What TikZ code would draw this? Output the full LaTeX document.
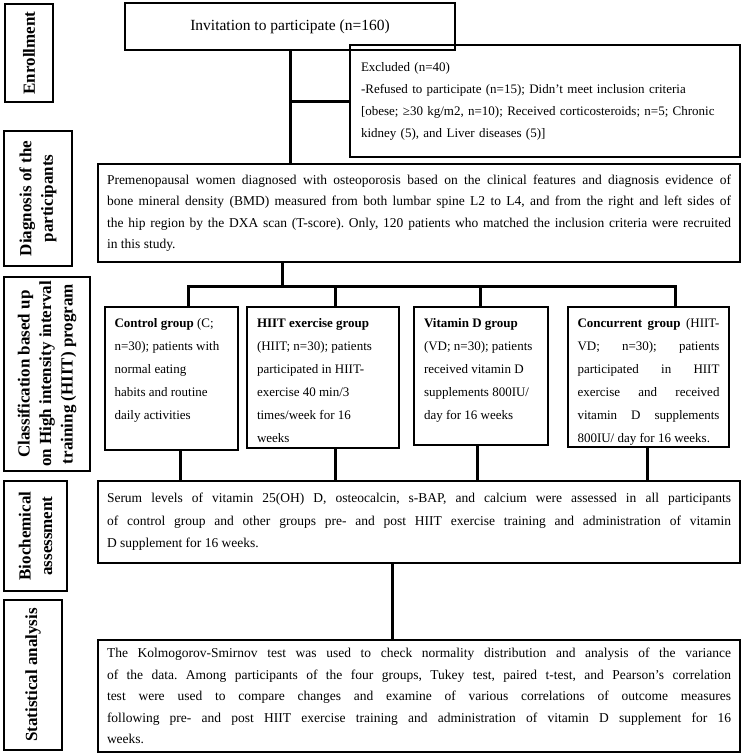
\documentclass[tikz,border=0pt]{standalone}
\usepackage{fontspec}
\setmainfont{Liberation Serif}
\frenchspacing
\newcommand{\corps}{\fontsize{13.5}{21.5}\selectfont}
\newcommand{\groupe}{\fontsize{13}{23}\selectfont}
\newcommand{\titre}{\fontsize{17}{21.5}\selectfont\bfseries}

\begin{document}
\begin{tikzpicture}[x=1pt,y=-1pt]
	\tikzset{boite/.style={draw=black, line width=1.3pt, inner sep=0pt}, etiquette/.style={draw=black, line width=1.3pt, inner sep=0pt, rotate=90, align=center, font=\titre}, lien/.style={line width=3pt}};
	\useasboundingbox (0,0) rectangle (744,755);

	% etiquettes a gauche
	\node[etiquette, minimum width=98pt, minimum height=48pt] (enr) at (29,53) {Enrollment};
	\node[etiquette, minimum width=135pt, minimum height=68pt] (diaglab) at (38,198.5) {Diagnosis of the\\participants};
	\node[etiquette, minimum width=194pt, minimum height=86pt] (classlab) at (47,374) {Classification based up\\on High intensity interval\\training (HIIT) program};
	\node[etiquette, minimum width=110pt, minimum height=63pt] (biolab) at (35.5,536) {Biochemical\\assessment};
	\node[etiquette, minimum width=150pt, minimum height=58pt] (statlab) at (33,675) {Statistical analysis};

	% boites
	\node[boite, minimum width=330pt, minimum height=47pt, font=\fontsize{15.5}{18}\selectfont] (inv) at (290,26.5) {Invitation to participate (n=160)};
	\node[boite, minimum width=390pt, minimum height=112pt, text width=368pt, align=left, font=\fontsize{13}{22}\selectfont] (excl) at (545,101) {Excluded (n=40)\\-Refused to participate (n=15); Didn’t meet inclusion criteria\\{}[obese; ≥30 kg/m2, n=10); Received corticosteroids; n=5; Chronic\\kidney (5), and Liver diseases (5)]};
	\node[boite, minimum width=642pt, minimum height=98pt, text width=624pt, align=justify, font=\corps] (diag) at (419,213) {Premenopausal women diagnosed with osteoporosis based on the clinical features and diagnosis evidence of\linebreak bone mineral density (BMD) measured from both lumbar spine L2 to L4, and from the right and left sides of\linebreak the hip region by the DXA scan (T-score). Only, 120 patients who matched the inclusion criteria were recruited\linebreak in this study.};

	\node[boite, minimum width=133pt, minimum height=143pt] (ctrl) at (171.5,378.5) {\parbox[c][121pt][t]{114pt}{\raggedright\groupe \textbf{Control group} (C;\\n=30); patients with\\normal eating\\habits and routine\\daily activities}};
	\node[boite, minimum width=152pt, minimum height=141pt] (hiit) at (323,377.5) {\parbox[c][119pt][t]{132pt}{\raggedright\groupe \textbf{HIIT exercise group}\\(HIIT; n=30); patients\\participated in HIIT-\\exercise 40 min/3\\times/week for 16\\weeks}};
	\node[boite, minimum width=134pt, minimum height=138pt] (vd) at (481,376) {\parbox[c][116pt][t]{114pt}{\raggedright\groupe \textbf{Vitamin D group}\\(VD; n=30); patients\\received vitamin D\\supplements 800IU/\\day for 16 weeks}};
	\node[boite, minimum width=161pt, minimum height=140pt] (conc) at (648.5,377) {\parbox[c][118pt][t]{142pt}{\groupe \textbf{Concurrent group} (HIIT-\linebreak VD; n=30); patients\linebreak participated in HIIT\linebreak exercise and received\linebreak vitamin D supplements\linebreak 800IU/ day for 16 weeks.}};

	\node[boite, minimum width=642pt, minimum height=82pt, text width=624pt, align=justify, font=\fontsize{13.5}{22.5}\selectfont] (bio) at (419,522) {Serum levels of vitamin 25(OH) D, osteocalcin, s-BAP, and calcium were assessed in all participants\linebreak of control group and other groups pre- and post HIIT exercise training and administration of vitamin\linebreak D supplement for 16 weeks.};
	\node[boite, minimum width=642pt, minimum height=112pt, text width=624pt, align=justify, font=\corps] (stat) at (419,696) {The Kolmogorov-Smirnov test was used to check normality distribution and analysis of the variance\linebreak of the data. Among participants of the four groups, Tukey test, paired t-test, and Pearson’s correlation\linebreak test were used to compare changes and examine of various correlations of outcome measures\linebreak following pre- and post HIIT exercise training and administration of vitamin D supplement for 16\linebreak weeks.};

	% liens
	\coordinate (barre) at (282,286);
	\draw[lien] (inv.south) -- (inv.south |- diag.north);
	\draw[lien] (inv.south |- excl.west) -- (excl.west);
	\draw[lien] (barre |- diag.south) -- (barre);
	\draw[lien] ([xshift=16.5pt]ctrl.north) |- (barre) -| ([xshift=26.5pt]conc.north);
	\draw[lien] ([xshift=12pt]hiit.north) -- ([xshift=12pt]hiit.north |- barre);
	\draw[lien] ([xshift=-1pt]vd.north) -- ([xshift=-1pt]vd.north |- barre);
	\draw[lien] ([xshift=8.5pt]ctrl.south) -- ([xshift=8.5pt]ctrl.south |- bio.north);
	\draw[lien] ([xshift=12pt]hiit.south) -- ([xshift=12pt]hiit.south |- bio.north);
	\draw[lien] ([xshift=-4pt]vd.south) -- ([xshift=-4pt]vd.south |- bio.north);
	\draw[lien] ([xshift=-1.5pt]conc.south) -- ([xshift=-1.5pt]conc.south |- bio.north);
	\draw[lien] ([xshift=-27pt]bio.south) -- ([xshift=-27pt]bio.south |- stat.north);
\end{tikzpicture}
\end{document}
